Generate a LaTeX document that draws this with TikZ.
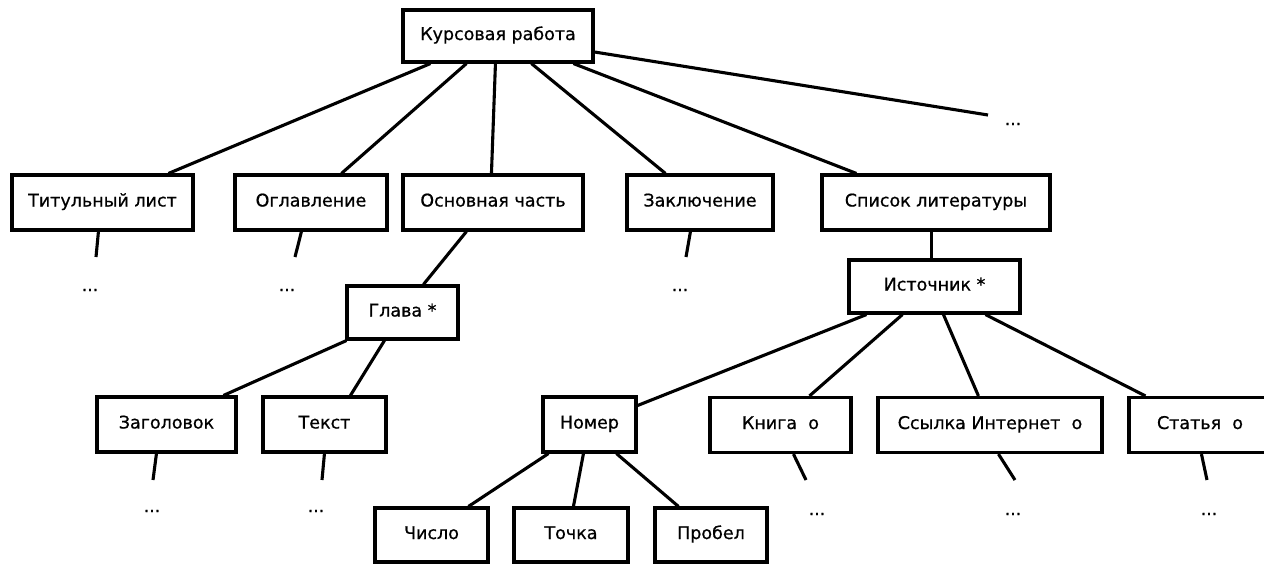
\documentclass[tikz,border=0pt]{standalone}
\usepackage{fontspec}
\setmainfont{DejaVu Sans}
\newfontfamily\boxfont[FakeBold=0.7]{DejaVu Sans}
\begin{document}
\begin{tikzpicture}[x=1pt,y=-1pt,
  box/.style={draw, line width=3.1pt, inner sep=0pt, minimum height=55pt,
    font=\boxfont\fontsize{17.5}{20}\selectfont, text height=0.8em, text depth=0pt},
  edge/.style={line width=3.1pt},
  dotsnode/.style={font=\boxfont\fontsize{17}{20}\selectfont, inner sep=0pt}]
\useasboundingbox[fill=white] (0,0) rectangle (1264,563);

% boxes
\node[box, minimum width=190pt, minimum height=52pt] (root) at (498,36) {Курсовая работа};
\node[box, minimum width=181pt] (tit) at (102.5,202.5) {Титульный лист};
\node[box, minimum width=152pt] (ogl) at (311,202.5) {Оглавление};
\node[box, minimum width=180pt] (osn) at (493,202.5) {Основная часть};
\node[box, minimum width=146pt] (zak) at (700,202.5) {Заключение};
\node[box, minimum width=228pt] (spi) at (936,202.5) {Список литературы};
\node[box, minimum width=111pt, minimum height=53pt] (glava) at (402.5,312.5) {Глава *};
\node[box, minimum width=171pt, minimum height=53pt] (ist) at (934.5,286.5) {Источник *};
\node[box, minimum width=139pt] (zag) at (166.5,424.5) {Заголовок};
\node[box, minimum width=123pt] (tek) at (324.5,424.5) {Текст};
\node[box, minimum width=93pt] (nom) at (589.5,424.5) {Номер};
\node[box, minimum width=141pt] (kni) at (780.5,425) {Книга\ \ o};
\node[box, minimum width=224pt] (ssy) at (990,425) {Ссылка Интернет\ \ o};
\node[box, minimum width=142pt] (sta) at (1200,425) {Статья\ \ o};
\node[box, minimum width=113pt, minimum height=54pt] (chi) at (431.5,535) {Число};
\node[box, minimum width=114pt, minimum height=54pt] (toc) at (571,535) {Точка};
\node[box, minimum width=112pt, minimum height=54pt] (pro) at (711,535) {Пробел};

% dots
\node[dotsnode] (d0) at (1013,124) {...};
\node[dotsnode] (d1) at (90,290) {...};
\node[dotsnode] (d2) at (287,290) {...};
\node[dotsnode] (d3) at (680,290) {...};
\node[dotsnode] (d4) at (152,511) {...};
\node[dotsnode] (d5) at (316,511) {...};
\node[dotsnode] (d6) at (817,514) {...};
\node[dotsnode] (d7) at (1013,514) {...};
\node[dotsnode] (d8) at (1209,514) {...};

% free ends
\coordinate (e0) at (988,115);
\coordinate (e1) at (96,257);
\coordinate (e2) at (295,257);
\coordinate (e3) at (686,257);
\coordinate (e4) at (153,480);
\coordinate (e5) at (322,480);
\coordinate (e6) at (806,480);
\coordinate (e7) at (1015,480);
\coordinate (e8) at (1207,480);

% connectors
\draw[edge] ([xshift=29pt]root.south west) -- ([xshift=158pt]tit.north west);
\draw[edge] ([xshift=65pt]root.south west) -- ([xshift=108pt]ogl.north west);
\draw[edge] ([xshift=94pt]root.south west) -- ([xshift=90pt]osn.north west);
\draw[edge] ([xshift=130pt]root.south west) -- ([xshift=40pt]zak.north west);
\draw[edge] ([xshift=172pt]root.south west) -- ([xshift=36pt]spi.north west);
\draw[edge] ([yshift=-16pt]root.east) -- (e0);

\draw[edge] ([xshift=88pt]tit.south west) -- (e1);
\draw[edge] ([xshift=68pt]ogl.south west) -- (e2);
\draw[edge] ([xshift=65pt]zak.south west) -- (e3);
\draw[edge] ([xshift=65pt]osn.south west) -- ([xshift=78pt]glava.north west);
\draw[edge] ([xshift=111pt]spi.south west) -- ([xshift=84pt]ist.north west);

\draw[edge] ([xshift=1pt]glava.south west) -- ([xshift=128pt]zag.north west);
\draw[edge] ([xshift=39pt]glava.south west) -- ([xshift=89pt]tek.north west);
\draw[edge] ([xshift=61pt]zag.south west) -- (e4);
\draw[edge] ([xshift=63pt]tek.south west) -- (e5);

\draw[edge] ([xshift=19pt]ist.south west) -- ([yshift=19pt]nom.east);
\draw[edge] ([xshift=55pt]ist.south west) -- ([xshift=101pt]kni.north west);
\draw[edge] ([xshift=96pt]ist.south west) -- ([xshift=102pt]ssy.north west);
\draw[edge] ([xshift=138pt]ist.south west) -- ([xshift=18pt]sta.north west);

\draw[edge] ([xshift=7pt]nom.south west) -- ([xshift=95pt]chi.north west);
\draw[edge] ([xshift=42pt]nom.south west) -- ([xshift=61pt]toc.north west);
\draw[edge] ([xshift=75pt]nom.south west) -- ([xshift=25pt]pro.north west);

\draw[edge] ([xshift=85pt]kni.south west) -- (e6);
\draw[edge] ([xshift=122pt]ssy.south west) -- (e7);
\draw[edge] ([xshift=74pt]sta.south west) -- (e8);
\end{tikzpicture}
\end{document}
